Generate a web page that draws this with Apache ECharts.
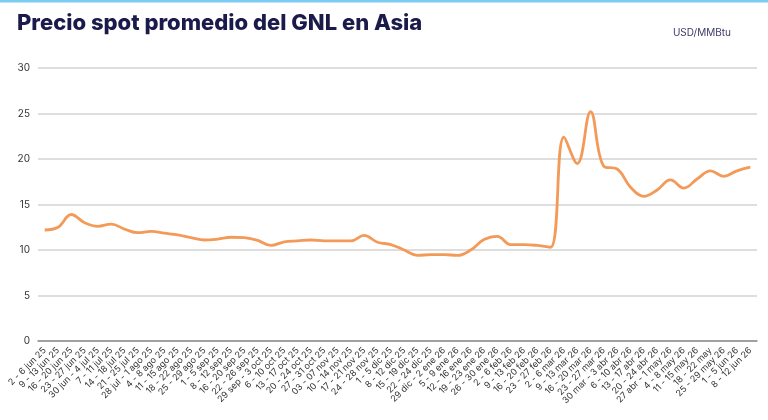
<!DOCTYPE html>
<html>
<head>
<meta charset="utf-8">
<script src="https://cdn.jsdelivr.net/npm/echarts@6/dist/echarts.min.js"></script>
<style>
  html, body { margin: 0; padding: 0; background: #fff; }
  #chart { width: 768px; height: 420px; }
</style>
</head>
<body>
<div id="chart"></div>
<script>
// 周度区间（类目）
const weeks = [
  '2 - 6 jun 25', '9 - 13 jun 25', '16 - 20 jun 25', '23 - 27 jun 25', '30 jun - 4 jul 25',
  '7 - 11 jul 25', '14 - 18 jul 25', '21 - 25 jul 25', '28 jul - 1 ago 25', '4 - 8 ago 25',
  '11 - 15 ago 25', '18 - 22 ago 25', '25 - 29 ago 25', '1 - 5 sep 25', '8 - 12 sep 25',
  '16 - 20 sep 25', '22 - 26 sep 25', '29 sep - 3 oct 25', '6 - 10 oct 25', '13 - 17 oct 25',
  '20 - 24 oct 25', '27 - 31 oct 25', '03 - 07 nov 25', '10 - 14 nov 25', '17 - 21 nov 25',
  '24 - 28 nov 25', '1 - 5 dic 25', '8 - 12 dic 25', '15 - 19 dic 25', '22 - 24 dic 25',
  '29 dic - 2 ene 26', '5 - 9 ene 26', '12 - 16 ene 26', '19 - 23 ene 26', '26 - 30 ene 26',
  '2 - 6 feb 26', '9 - 13 feb 26', '16 - 20 feb 26', '23 - 27 feb 26', '2 - 6 mar 26',
  '9 - 13 mar 26', '16 - 20 mar 26', '23 - 27 mar 26', '30 mar - 3 abr 26', '6 - 10 abr 26',
  '13 - 17 abr 26', '20 - 24 abr 26', '27 abr - 1 may 26', '4 - 8 may 26', '11 - 15 may 26',
  '18 - 22 may', '25 - 29 may 26', '1 - 5 jun 26', '8 - 12 jun 26'
];

// 价格（USD/MMBtu）
const prices = [
  12.2, 12.5, 13.9, 13.0, 12.6, 12.85, 12.3, 11.9, 12.05, 11.85,
  11.65, 11.35, 11.1, 11.2, 11.4, 11.35, 11.05, 10.5, 10.9, 11.0,
  11.1, 11.0, 11.0, 11.0, 11.6, 10.85, 10.6, 10.0, 9.4, 9.5,
  9.5, 9.4, 10.0, 11.15, 11.5, 10.6, 10.6, 10.5, 10.3, 22.4,
  19.5, 25.2, 19.2, 18.9, 16.9, 15.9, 16.6, 17.7, 16.8, 17.8,
  18.7, 18.1, 18.7, 19.1
];

// Y轴刻度
const yTicks = [0, 5, 10, 15, 20, 25, 30];

const chart = echarts.init(document.getElementById('chart'));

const option = {
  backgroundColor: '#fff',
  animation: false,
  title: {
    text: 'Precio spot promedio del GNL en Asia',
    left: 12,
    top: 7,
    textStyle: {
      fontFamily: 'Inter',
      fontWeight: 800,
      fontSize: 22,
      color: '#1b1b4b'
    }
  },
  graphic: [
    // 顶部浅蓝色细线
    { type: 'rect', left: 0, top: 0, shape: { width: 768, height: 2.5 }, style: { fill: '#7ccdf4' } },
    {
      type: 'text', right: 37, top: 28,
      style: { text: 'USD/MMBtu', fill: '#3b3b68', font: '10px Inter' }
    }
  ],
  grid: { left: 38, right: 11, top: 68, bottom: 79 },
  xAxis: {
    type: 'category',
    data: weeks,
    boundaryGap: true,
    axisLine: { lineStyle: { color: '#8c8c8c', width: 1.5 } },
    axisTick: { show: false },
    axisLabel: {
      interval: 0,
      rotate: 45,
      fontFamily: 'Inter',
      fontSize: 9,
      color: '#333',
      margin: 8
    }
  },
  yAxis: {
    type: 'value',
    min: yTicks[0],
    max: yTicks[yTicks.length - 1],
    interval: 5,
    axisLine: { show: false },
    axisTick: { show: false },
    axisLabel: { fontFamily: 'Inter', fontSize: 10, color: '#333', margin: 8 },
    splitLine: { lineStyle: { color: '#d3d3d3', width: 1.5 } }
  },
  series: [{
    type: 'line',
    data: prices,
    smooth: 0.4,
    showSymbol: false,
    lineStyle: { color: '#f39a58', width: 2.8 }
  }]
};

chart.setOption(option);

window.addEventListener('resize', () => chart.resize());
</script>
</body>
</html>
